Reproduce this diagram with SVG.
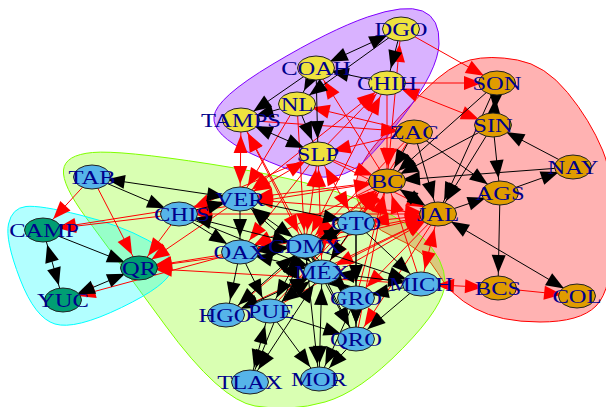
<svg xmlns="http://www.w3.org/2000/svg" width="606" height="407" viewBox="0 0 606 407">
<defs>
<style>
.k{stroke:#000;stroke-width:1;marker-end:url(#ak)}
.r{stroke:#f00;stroke-width:1;marker-end:url(#ar)}
.k.b{marker-start:url(#ak)}
.r.b{marker-start:url(#ar)}
.v{stroke:#222;stroke-width:1}
.y{fill:#EEE23E}
.o{fill:#E09C00}
.c{fill:#56B4E9}
.g{fill:#009E73}
.t{font-family:"Liberation Serif","Times New Roman",serif;font-size:19.5px;fill:#00008B;text-anchor:middle}
</style>
<marker id="ak" markerUnits="userSpaceOnUse" markerWidth="34" markerHeight="14" refX="33" refY="7" orient="auto-start-reverse" overflow="visible"><path d="M0,0 L18,7 L0,14 Z" fill="#000"/></marker>
<marker id="ar" markerUnits="userSpaceOnUse" markerWidth="34" markerHeight="14" refX="33" refY="7" orient="auto-start-reverse" overflow="visible"><path d="M0,0 L18,7 L0,14 Z" fill="#f00"/></marker>
</defs>
<g id="groups">
<path d="M517.5,60 Q545,65 567.5,92.5 Q590,120 602.5,150 Q615,180 613.5,235 Q612,290 596,306 Q580,322 540,322 Q500,322 475,308.5 Q450,295 437.5,272.5 Q425,250 395,237.5 Q365,225 357.5,200 Q350,175 375,145 Q400,115 425,90 Q450,65 470,60 Q490,55 517.5,60 Z" fill="#FF0000" fill-opacity="0.3" stroke="#FF0000"/>
<path d="M92.5,152.5 Q120,150 210,164 Q300,178 350,196.5 Q400,215 422.5,237.5 Q445,260 445,282.5 Q445,305 402.5,348.5 Q360,392 325,402 Q290,412 255,406 Q220,400 165,325 Q110,250 86,217.5 Q62,185 63.5,170 Q65,155 92.5,152.5 Z" fill="#80FF00" fill-opacity="0.3" stroke="#80FF00"/>
<path d="M80,215 Q120,225 147.5,240 Q175,255 171.5,270 Q168,285 121.5,307.5 Q75,330 55,324 Q35,318 20,279 Q5,240 8.5,224 Q12,208 26,206.5 Q40,205 80,215 Z" fill="#00FFFF" fill-opacity="0.3" stroke="#00FFFF"/>
<path d="M422.5,11 Q440,18 439,44 Q438,70 404,115 Q370,160 352.5,170 Q335,180 312.5,176 Q290,172 251,153.5 Q212,135 214,116.5 Q216,98 273,64 Q330,30 367.5,17 Q405,4 422.5,11 Z" fill="#8000FF" fill-opacity="0.3" stroke="#8000FF"/>
</g>
<g id="edges">
<line class="r" x1="92" y1="177" x2="43" y2="230"/>
<line class="r" x1="92" y1="177" x2="139" y2="268"/>
<line class="r" x1="179" y1="214" x2="43" y2="230"/>
<line class="r" x1="240" y1="199" x2="43" y2="230"/>
<line class="r" x1="179" y1="214" x2="139" y2="268"/>
<line class="r" x1="240" y1="199" x2="139" y2="268"/>
<line class="r" x1="240" y1="252" x2="139" y2="268"/>
<line class="r" x1="305" y1="246" x2="139" y2="268"/>
<line class="r" x1="421" y1="284" x2="139" y2="268"/>
<line class="r" x1="240" y1="252" x2="63" y2="300"/>
<line class="r b" x1="241" y1="120" x2="240" y2="199"/>
<line class="r b" x1="241" y1="120" x2="305" y2="246"/>
<line class="r b" x1="241" y1="120" x2="322" y2="272"/>
<line class="r" x1="297" y1="104" x2="240" y2="199"/>
<line class="r b" x1="318" y1="154" x2="240" y2="199"/>
<line class="r b" x1="318" y1="154" x2="305" y2="246"/>
<line class="r b" x1="318" y1="154" x2="322" y2="272"/>
<line class="r b" x1="318" y1="154" x2="356" y2="223"/>
<line class="r" x1="318" y1="154" x2="240" y2="252"/>
<line class="r" x1="318" y1="154" x2="179" y2="214"/>
<line class="r b" x1="387" y1="83" x2="240" y2="199"/>
<line class="r b" x1="387" y1="83" x2="305" y2="246"/>
<line class="r" x1="297" y1="104" x2="305" y2="246"/>
<line class="r" x1="401" y1="29" x2="497" y2="83"/>
<line class="r" x1="387" y1="83" x2="497" y2="83"/>
<line class="r b" x1="387" y1="83" x2="493" y2="125"/>
<line class="r b" x1="401" y1="29" x2="387" y2="181"/>
<line class="r" x1="387" y1="83" x2="387" y2="181"/>
<line class="r" x1="414" y1="132" x2="318" y2="154"/>
<line class="r" x1="387" y1="181" x2="316" y2="68"/>
<line class="r" x1="414" y1="132" x2="297" y2="104"/>
<line class="r" x1="318" y1="154" x2="387" y2="181"/>
<line class="r" x1="318" y1="154" x2="438" y2="214"/>
<line class="r" x1="241" y1="120" x2="414" y2="132"/>
<line class="r" x1="318" y1="154" x2="387" y2="83"/>
<line class="r" x1="387" y1="181" x2="240" y2="199"/>
<line class="r b" x1="387" y1="181" x2="305" y2="246"/>
<line class="r b" x1="387" y1="181" x2="356" y2="223"/>
<line class="r b" x1="387" y1="181" x2="322" y2="272"/>
<line class="r" x1="387" y1="181" x2="240" y2="252"/>
<line class="r b" x1="387" y1="181" x2="179" y2="214"/>
<line class="r" x1="421" y1="284" x2="387" y2="181"/>
<line class="r" x1="356" y1="298" x2="387" y2="181"/>
<line class="r" x1="227" y1="315" x2="387" y2="181"/>
<line class="r" x1="269" y1="311" x2="387" y2="181"/>
<line class="r" x1="356" y1="339" x2="387" y2="181"/>
<line class="r b" x1="438" y1="214" x2="356" y2="223"/>
<line class="r b" x1="438" y1="214" x2="305" y2="246"/>
<line class="r b" x1="438" y1="214" x2="322" y2="272"/>
<line class="r b" x1="438" y1="214" x2="421" y2="284"/>
<line class="r b" x1="438" y1="214" x2="240" y2="252"/>
<line class="r" x1="438" y1="214" x2="356" y2="298"/>
<line class="r b" x1="438" y1="214" x2="240" y2="199"/>
<line class="r" x1="438" y1="214" x2="179" y2="214"/>
<line class="r" x1="414" y1="132" x2="356" y2="223"/>
<line class="r" x1="414" y1="132" x2="305" y2="246"/>
<line class="r b" x1="498" y1="288" x2="421" y2="284"/>
<line class="r" x1="498" y1="288" x2="577" y2="296"/>
<line class="r" x1="438" y1="214" x2="356" y2="339"/>
<line class="r" x1="269" y1="311" x2="438" y2="214"/>
<line class="r" x1="227" y1="315" x2="438" y2="214"/>
<line class="k b" x1="316" y1="68" x2="401" y2="29"/>
<line class="k" x1="401" y1="29" x2="387" y2="83"/>
<line class="k" x1="401" y1="29" x2="297" y2="104"/>
<line class="k" x1="316" y1="68" x2="241" y2="120"/>
<line class="k" x1="387" y1="83" x2="316" y2="68"/>
<line class="k" x1="316" y1="68" x2="297" y2="104"/>
<line class="k" x1="316" y1="68" x2="318" y2="154"/>
<line class="k" x1="297" y1="104" x2="318" y2="154"/>
<line class="k b" x1="241" y1="120" x2="318" y2="154"/>
<line class="k" x1="297" y1="104" x2="241" y2="120"/>
<line class="k b" x1="497" y1="83" x2="493" y2="125"/>
<line class="k" x1="493" y1="125" x2="438" y2="214"/>
<line class="k" x1="497" y1="83" x2="438" y2="214"/>
<line class="k" x1="493" y1="125" x2="387" y2="181"/>
<line class="k" x1="497" y1="83" x2="387" y2="181"/>
<line class="k" x1="573" y1="167" x2="493" y2="125"/>
<line class="k" x1="573" y1="167" x2="387" y2="181"/>
<line class="k" x1="500" y1="193" x2="573" y2="167"/>
<line class="k" x1="493" y1="125" x2="500" y2="193"/>
<line class="k" x1="500" y1="193" x2="498" y2="288"/>
<line class="k b" x1="438" y1="214" x2="577" y2="296"/>
<line class="k" x1="414" y1="132" x2="438" y2="214"/>
<line class="k" x1="414" y1="132" x2="500" y2="193"/>
<line class="k b" x1="387" y1="181" x2="438" y2="214"/>
<line class="k" x1="438" y1="214" x2="500" y2="193"/>
<line class="k" x1="414" y1="132" x2="387" y2="181"/>
<line class="k b" x1="92" y1="177" x2="240" y2="199"/>
<line class="k" x1="92" y1="177" x2="179" y2="214"/>
<line class="k" x1="179" y1="214" x2="240" y2="199"/>
<line class="k" x1="240" y1="199" x2="240" y2="252"/>
<line class="k b" x1="240" y1="199" x2="305" y2="246"/>
<line class="k b" x1="240" y1="199" x2="322" y2="272"/>
<line class="k" x1="240" y1="199" x2="356" y2="223"/>
<line class="k b" x1="179" y1="214" x2="305" y2="246"/>
<line class="k" x1="179" y1="214" x2="322" y2="272"/>
<line class="k" x1="179" y1="214" x2="240" y2="252"/>
<line class="k" x1="240" y1="252" x2="227" y2="315"/>
<line class="k" x1="240" y1="252" x2="269" y2="311"/>
<line class="k b" x1="240" y1="252" x2="305" y2="246"/>
<line class="k b" x1="240" y1="252" x2="322" y2="272"/>
<line class="k b" x1="305" y1="246" x2="322" y2="272"/>
<line class="k b" x1="305" y1="246" x2="356" y2="223"/>
<line class="k b" x1="305" y1="246" x2="269" y2="311"/>
<line class="k b" x1="305" y1="246" x2="227" y2="315"/>
<line class="k" x1="305" y1="246" x2="356" y2="298"/>
<line class="k" x1="305" y1="246" x2="356" y2="339"/>
<line class="k b" x1="305" y1="246" x2="319" y2="379"/>
<line class="k b" x1="305" y1="246" x2="250" y2="382"/>
<line class="k" x1="305" y1="246" x2="421" y2="284"/>
<line class="k b" x1="322" y1="272" x2="421" y2="284"/>
<line class="k b" x1="322" y1="272" x2="356" y2="298"/>
<line class="k" x1="322" y1="272" x2="356" y2="339"/>
<line class="k b" x1="322" y1="272" x2="319" y2="379"/>
<line class="k b" x1="322" y1="272" x2="250" y2="382"/>
<line class="k b" x1="322" y1="272" x2="227" y2="315"/>
<line class="k b" x1="322" y1="272" x2="269" y2="311"/>
<line class="k" x1="356" y1="223" x2="421" y2="284"/>
<line class="k" x1="356" y1="223" x2="356" y2="339"/>
<line class="k" x1="356" y1="223" x2="356" y2="298"/>
<line class="k" x1="356" y1="223" x2="322" y2="272"/>
<line class="k" x1="421" y1="284" x2="356" y2="339"/>
<line class="k" x1="421" y1="284" x2="356" y2="298"/>
<line class="k" x1="356" y1="298" x2="356" y2="339"/>
<line class="k" x1="356" y1="298" x2="319" y2="379"/>
<line class="k b" x1="269" y1="311" x2="250" y2="382"/>
<line class="k" x1="269" y1="311" x2="319" y2="379"/>
<line class="k" x1="269" y1="311" x2="356" y2="339"/>
<line class="k" x1="356" y1="339" x2="319" y2="379"/>
<line class="k b" x1="43" y1="230" x2="63" y2="300"/>
<line class="k" x1="43" y1="230" x2="139" y2="268"/>
<line class="k b" x1="139" y1="268" x2="63" y2="300"/>
</g>
<g id="nodes">
<g id="n-DGO"><ellipse class="v y" cx="401" cy="29" rx="18.5" ry="12"/><text class="t" transform="translate(401,35.5) scale(1.26,1)">DGO</text></g>
<g id="n-COAH"><ellipse class="v y" cx="316" cy="68" rx="18.5" ry="12"/><text class="t" transform="translate(316,74.5) scale(1.26,1)">COAH</text></g>
<g id="n-CHIH"><ellipse class="v y" cx="387" cy="83" rx="18.5" ry="12"/><text class="t" transform="translate(387,89.5) scale(1.26,1)">CHIH</text></g>
<g id="n-NL"><ellipse class="v y" cx="297" cy="104" rx="18.5" ry="12"/><text class="t" transform="translate(297,110.5) scale(1.26,1)">NL</text></g>
<g id="n-TAMPS"><ellipse class="v y" cx="241" cy="120" rx="18.5" ry="12"/><text class="t" transform="translate(241,126.5) scale(1.26,1)">TAMPS</text></g>
<g id="n-SLP"><ellipse class="v y" cx="318" cy="154" rx="18.5" ry="12"/><text class="t" transform="translate(318,160.5) scale(1.26,1)">SLP</text></g>
<g id="n-SON"><ellipse class="v o" cx="497" cy="83" rx="18.5" ry="12"/><text class="t" transform="translate(497,89.5) scale(1.26,1)">SON</text></g>
<g id="n-SIN"><ellipse class="v o" cx="493" cy="125" rx="18.5" ry="12"/><text class="t" transform="translate(493,131.5) scale(1.26,1)">SIN</text></g>
<g id="n-ZAC"><ellipse class="v o" cx="414" cy="132" rx="18.5" ry="12"/><text class="t" transform="translate(414,138.5) scale(1.26,1)">ZAC</text></g>
<g id="n-NAY"><ellipse class="v o" cx="573" cy="167" rx="18.5" ry="12"/><text class="t" transform="translate(573,173.5) scale(1.26,1)">NAY</text></g>
<g id="n-BC"><ellipse class="v o" cx="387" cy="181" rx="18.5" ry="12"/><text class="t" transform="translate(387,187.5) scale(1.26,1)">BC</text></g>
<g id="n-AGS"><ellipse class="v o" cx="500" cy="193" rx="18.5" ry="12"/><text class="t" transform="translate(500,199.5) scale(1.26,1)">AGS</text></g>
<g id="n-JAL"><ellipse class="v o" cx="438" cy="214" rx="18.5" ry="12"/><text class="t" transform="translate(438,220.5) scale(1.26,1)">JAL</text></g>
<g id="n-BCS"><ellipse class="v o" cx="498" cy="288" rx="18.5" ry="12"/><text class="t" transform="translate(498,294.5) scale(1.26,1)">BCS</text></g>
<g id="n-COL"><ellipse class="v o" cx="577" cy="296" rx="18.5" ry="12"/><text class="t" transform="translate(577,302.5) scale(1.26,1)">COL</text></g>
<g id="n-TAB"><ellipse class="v c" cx="92" cy="177" rx="18.5" ry="12"/><text class="t" transform="translate(92,183.5) scale(1.26,1)">TAB</text></g>
<g id="n-VER"><ellipse class="v c" cx="240" cy="199" rx="18.5" ry="12"/><text class="t" transform="translate(240,205.5) scale(1.26,1)">VER</text></g>
<g id="n-CHIS"><ellipse class="v c" cx="179" cy="214" rx="18.5" ry="12"/><text class="t" transform="translate(182,220.5) scale(1.26,1)">CHIS</text></g>
<g id="n-CAMP"><ellipse class="v g" cx="43" cy="230" rx="18.5" ry="12"/><text class="t" transform="translate(44,236.5) scale(1.26,1)">CAMP</text></g>
<g id="n-QR"><ellipse class="v g" cx="139" cy="268" rx="18.5" ry="12"/><text class="t" transform="translate(139,274.5) scale(1.26,1)">QR</text></g>
<g id="n-YUC"><ellipse class="v g" cx="63" cy="300" rx="18.5" ry="12"/><text class="t" transform="translate(63,306.5) scale(1.26,1)">YUC</text></g>
<g id="n-OAX"><ellipse class="v c" cx="240" cy="252" rx="18.5" ry="12"/><text class="t" transform="translate(240,258.5) scale(1.26,1)">OAX</text></g>
<g id="n-CDMX"><ellipse class="v c" cx="305" cy="246" rx="18.5" ry="12"/><text class="t" transform="translate(305,252.5) scale(1.26,1)">CDMX</text></g>
<g id="n-GTO"><ellipse class="v c" cx="356" cy="223" rx="18.5" ry="12"/><text class="t" transform="translate(356,229.5) scale(1.26,1)">GTO</text></g>
<g id="n-MEX"><ellipse class="v c" cx="322" cy="272" rx="18.5" ry="12"/><text class="t" transform="translate(322,278.5) scale(1.26,1)">MÉX</text></g>
<g id="n-MICH"><ellipse class="v c" cx="421" cy="284" rx="18.5" ry="12"/><text class="t" transform="translate(421,290.5) scale(1.26,1)">MICH</text></g>
<g id="n-GRO"><ellipse class="v c" cx="356" cy="298" rx="18.5" ry="12"/><text class="t" transform="translate(356,304.5) scale(1.26,1)">GRO</text></g>
<g id="n-HGO"><ellipse class="v c" cx="226" cy="315" rx="18.5" ry="12"/><text class="t" transform="translate(225,321.5) scale(1.26,1)">HGO</text></g>
<g id="n-PUE"><ellipse class="v c" cx="270" cy="311" rx="18.5" ry="12"/><text class="t" transform="translate(271,317.5) scale(1.26,1)">PUE</text></g>
<g id="n-QRO"><ellipse class="v c" cx="356" cy="339" rx="18.5" ry="12"/><text class="t" transform="translate(356,345.5) scale(1.26,1)">QRO</text></g>
<g id="n-TLAX"><ellipse class="v c" cx="250" cy="382" rx="18.5" ry="12"/><text class="t" transform="translate(250,388.5) scale(1.26,1)">TLAX</text></g>
<g id="n-MOR"><ellipse class="v c" cx="319" cy="379" rx="18.5" ry="12"/><text class="t" transform="translate(319,385.5) scale(1.26,1)">MOR</text></g>
</g>
</svg>
